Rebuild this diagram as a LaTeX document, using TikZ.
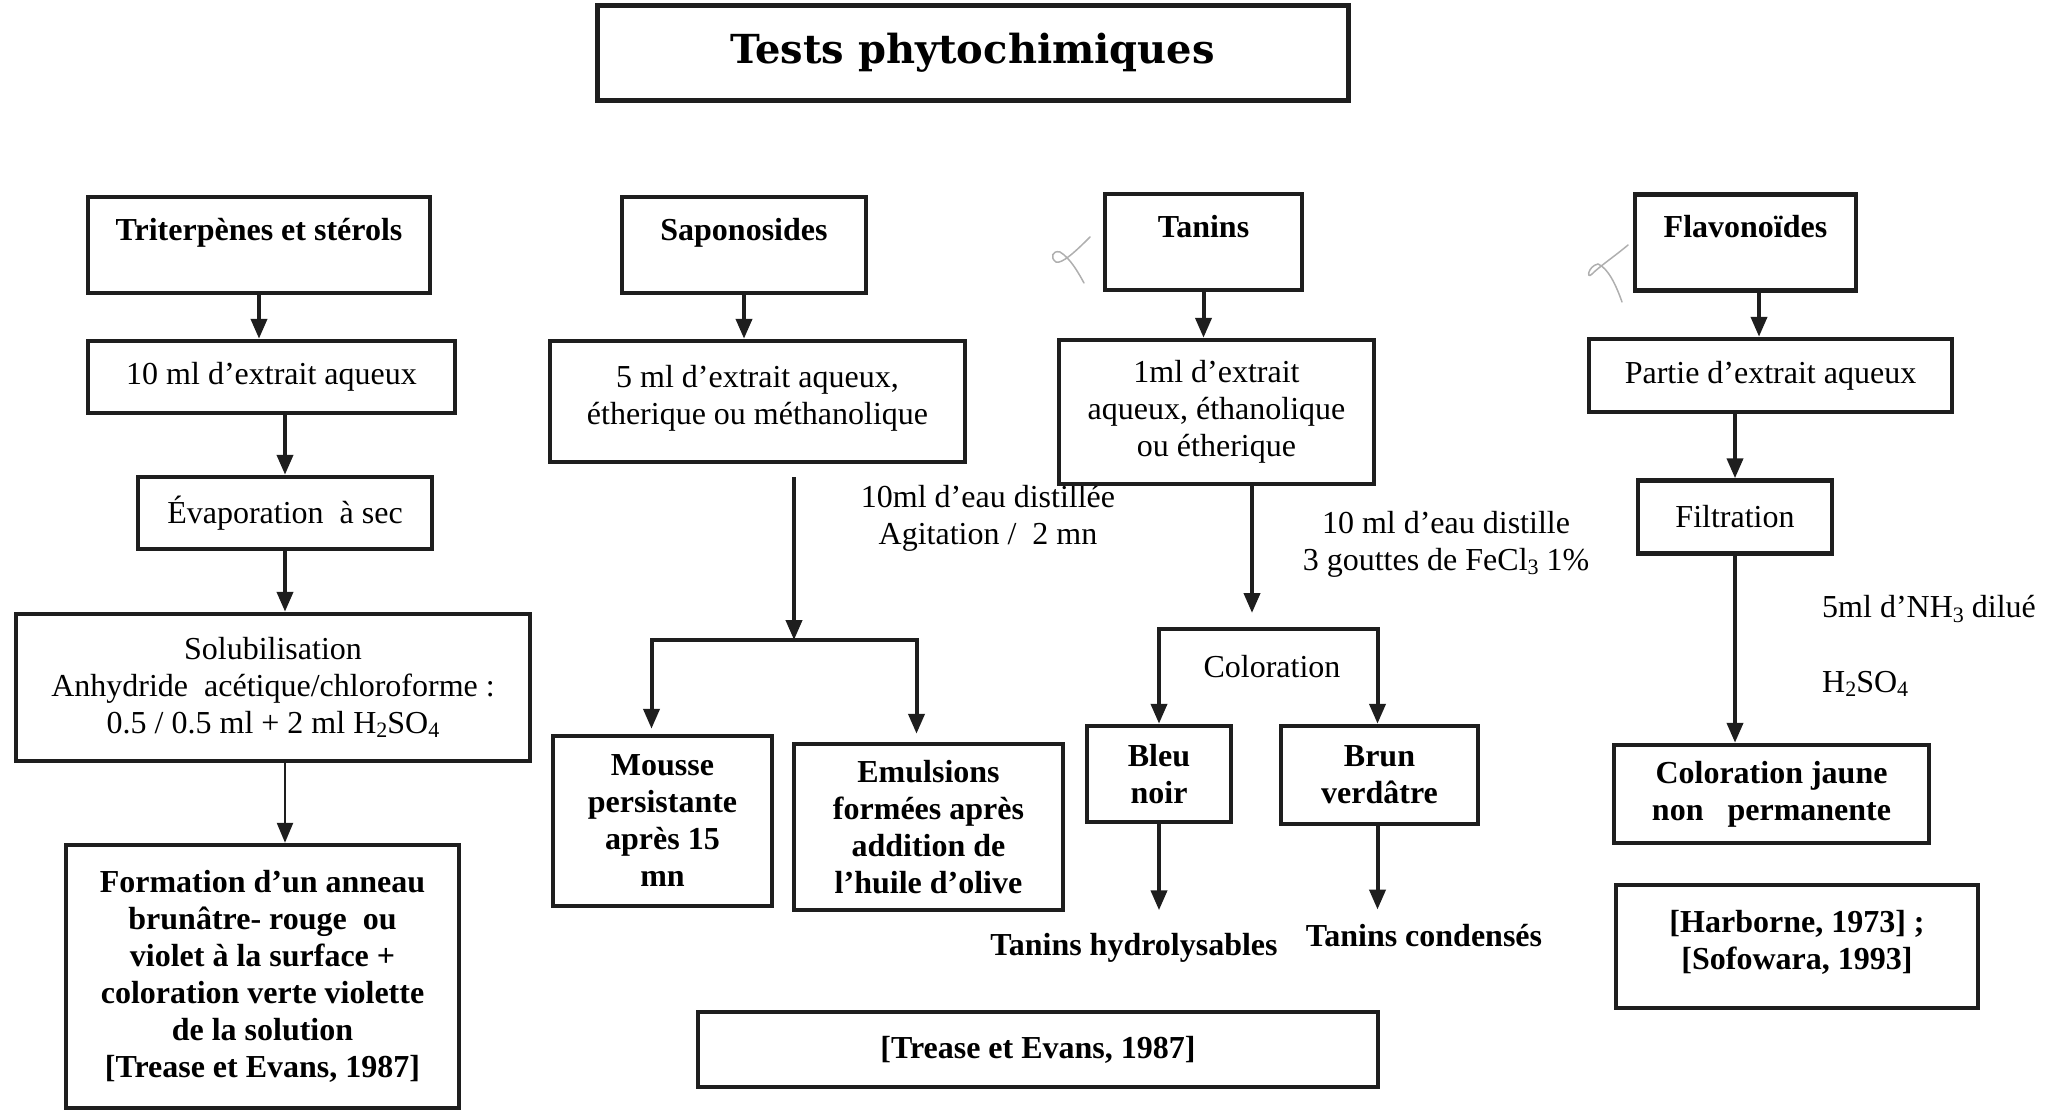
\documentclass[tikz,border=0pt]{standalone}
\usepackage{fontspec}
\setmainfont{Liberation Serif}
\newfontfamily\titlefont{DejaVu Serif}
\usepackage{tikz}
\usetikzlibrary{calc, positioning, arrows.meta}
\definecolor{ink}{RGB}{30, 30, 30}
\definecolor{pencil}{RGB}{175, 175, 175}
\newcommand{\chemsub}[1]{\raisebox{-0.28ex}{\fontsize{22}{22}\selectfont #1}}

\begin{document}
\begin{tikzpicture}[x=1pt, y=-1pt,
  box/.style={draw=ink, line width=4.5pt, align=center, inner sep=0pt,
    font=\fontsize{32}{37}\selectfont},
  headbox/.style={box, font=\fontsize{32}{37}\selectfont\bfseries,
    text height=43pt, text depth=53pt},
  resbox/.style={box, font=\fontsize{32}{37}\selectfont\bfseries},
  note/.style={inner sep=0pt, align=center, font=\fontsize{32}{37}\selectfont},
  arr/.style={draw=ink, line width=4pt, -{Triangle[length=20pt, width=16pt]}},
]
  \useasboundingbox (0,0) rectangle (2058,1111);

  % Title
  \node[draw=ink, line width=5pt, minimum width=751pt, minimum height=95pt,
    inner sep=0pt, font=\titlefont\bfseries\fontsize{40}{44}\selectfont]
    (title) at (972.5,53) {Tests phytochimiques};

  % Column 1: triterpenes and sterols
  \node[headbox, minimum width=342pt] (tri) at (259,245) {Triterpènes et stérols};
  \node[box, minimum width=367pt, minimum height=72pt] (tri10) at (271.5,377)
    {10 ml d’extrait aqueux};
  \node[box, minimum width=294pt, minimum height=72pt] (evap) at (285,513)
    {Évaporation\ \ à sec};
  \node[box, minimum width=514pt, minimum height=147pt] (sol) at (273,687.5)
    {Solubilisation\\Anhydride\ \ acétique/chloroforme :\\
     0.5 / 0.5 ml + 2 ml H\chemsub{2}SO\chemsub{4}};
  \node[resbox, minimum width=393pt, minimum height=263pt] (form) at (262.5,976.5)
    {Formation d’un anneau\\brunâtre- rouge\ \ ou\\violet à la surface +\\
     coloration verte violette\\de la solution\\{}[Trease et Evans, 1987]};

  \draw[arr] (tri.south) -- (tri.south |- tri10.north);
  \draw[arr] (tri10.south -| evap.north) -- (evap.north);
  \draw[arr] (evap.south) -- (evap.south |- sol.north);
  \draw[arr, line width=2.5pt] (sol.south -| evap.south) -- (form.north -| evap.south);

  % Column 2: saponosides
  \node[headbox, minimum width=244pt] (sap) at (744,245) {Saponosides};
  \node[box, minimum width=415pt, minimum height=121pt, text depth=14pt] (sap5) at (757.5,401.5)
    {5 ml d’extrait aqueux,\\étherique ou méthanolique};
  \node[resbox, minimum width=219pt, minimum height=170pt] (mousse) at (662.5,821)
    {Mousse\\persistante\\après 15\\mn};
  \node[resbox, minimum width=269pt, minimum height=166pt] (emul) at (928.5,827)
    {Emulsions\\formées après\\addition de\\l’huile d’olive};
  \node[note] (sapnote) at (988,518) {10ml d’eau distillée\\Agitation /\ \ 2 mn};
  \coordinate (sapfork) at (794,640);

  \draw[arr] (sap.south) -- (sap.south |- sap5.north);
  \draw[arr] ([yshift=-13pt]sap5.south -| sapfork) -- (sapfork);
  \draw[arr, shorten >=5pt] (sapfork) -| ([xshift=-11pt]mousse.north);
  \draw[arr, shorten >=8pt] (sapfork) -| ([xshift=-12pt]emul.north);

  % Column 3: tanins
  \node[headbox, minimum width=197pt] (tan) at (1203.5,242) {Tanins};
  \node[box, minimum width=315pt, minimum height=144pt] (tanext) at (1216.5,412)
    {1ml d’extrait\\aqueux, éthanolique\\ou étherique};
  \node[note] (tannote) at (1446,544)
    {10 ml d’eau distille\\3 gouttes de FeCl\chemsub{3} 1\%};
  \coordinate (tanfork) at (1252,629);
  \node[note] (colo) at (1272,667) {Coloration};
  \node[resbox, minimum width=144pt, minimum height=96pt] (bleu) at (1159,774)
    {Bleu\\noir};
  \node[resbox, minimum width=197pt, minimum height=98pt] (brun) at (1379.5,775)
    {Brun\\verdâtre};
  \node[note, font=\fontsize{32}{37}\selectfont\bfseries] (hydro) at (1134,948)
    {Tanins hydrolysables};
  \node[note, font=\fontsize{32}{37}\selectfont\bfseries] (cond) at (1424,936)
    {Tanins condensés};
  \node[resbox, minimum width=680pt, minimum height=75pt] (trease) at (1038,1049.5)
    {{}[Trease et Evans, 1987]};

  \draw[arr] (tan.south) -- (tan.south |- tanext.north);
  \draw[arr, shorten >=16pt] (tanext.south -| tanfork) -- (tanfork);
  \draw[arr] (tanfork) -| (bleu.north);
  \draw[arr] (tanfork) -| ([xshift=-2pt]brun.north);
  \draw[arr, shorten >=23pt] (bleu.south) -- (bleu.south |- hydro.north);
  \draw[arr, shorten >=15pt] ([xshift=-2pt]brun.south) -- ([xshift=-2pt]brun.south |- cond.north);

  % Column 4: flavonoids
  \node[headbox, minimum width=221pt] (flav) at (1745.5,242.5) {Flavonoïdes};
  \node[box, minimum width=363pt, minimum height=73pt] (partie) at (1770.5,375.5)
    {Partie d’extrait aqueux};
  \node[box, minimum width=194pt, minimum height=73pt] (filt) at (1735,517)
    {Filtration};
  \node[note, anchor=west] (nh3) at (1822,609) {5ml d’NH\chemsub{3} dilué};
  \node[note, anchor=west] (acid) at (1822,684) {H\chemsub{2}SO\chemsub{4}};
  \node[resbox, minimum width=315pt, minimum height=98pt] (jaune) at (1771.5,794)
    {Coloration jaune\\non\ \ \ permanente};
  \node[resbox, minimum width=362pt, minimum height=123pt, text depth=14pt] (harb) at (1797,946.5)
    {{}[Harborne, 1973] ;\\{}[Sofowara, 1993]};

  \draw[arr] ([xshift=13.5pt]flav.south) -- ([xshift=13.5pt]flav.south |- partie.north);
  \draw[arr] (partie.south -| filt.north) -- (filt.north);
  \draw[arr] (filt.south) -- (filt.south |- jaune.north);

  % Pencil ticks
  \draw[pencil, line width=1.5pt, line cap=round]
    (1090,237) .. controls (1075,252) and (1062,264) .. (1056,262)
    .. controls (1050,258) and (1052,250) .. (1060,252)
    .. controls (1070,258) and (1078,272) .. (1084,283);
  \draw[pencil, line width=1.5pt, line cap=round]
    (1628,245) .. controls (1615,256) and (1600,266) .. (1592,274)
    .. controls (1586,280) and (1588,266) .. (1598,264)
    .. controls (1608,268) and (1616,285) .. (1622,302);
\end{tikzpicture}
\end{document}
